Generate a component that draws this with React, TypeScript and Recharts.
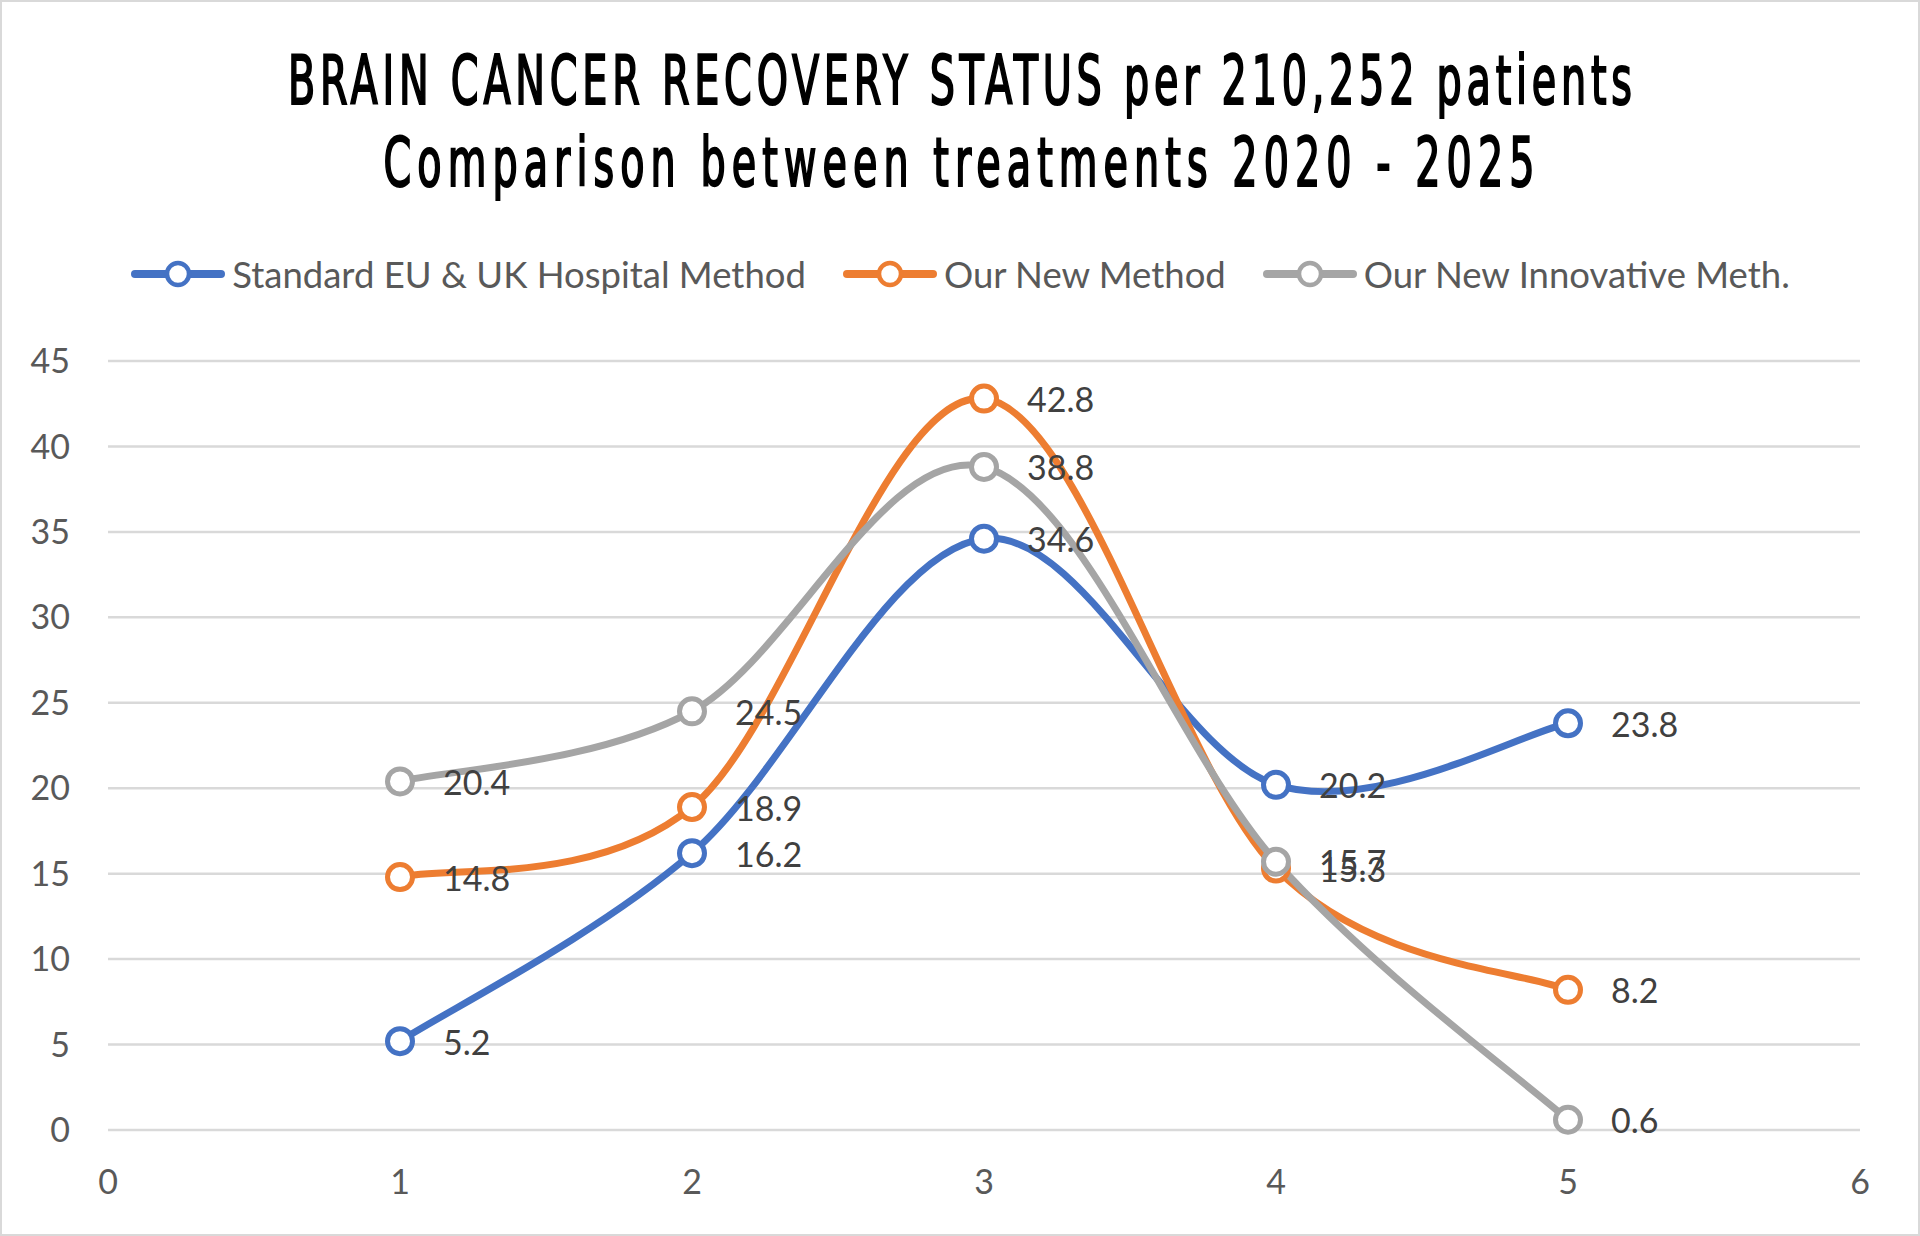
import { LineChart, Line, XAxis, YAxis, CartesianGrid, Legend, LabelList } from "recharts";

const xValues = [1, 2, 3, 4, 5];
const standardMethod = [5.2, 16.2, 34.6, 20.2, 23.8];
const newMethod = [14.8, 18.9, 42.8, 15.3, 8.2];
const innovativeMethod = [20.4, 24.5, 38.8, 15.7, 0.6];

const seriesNames = ["Standard EU & UK Hospital Method", "Our New Method", "Our New Innovative Meth."];
const seriesKeys = ["standard", "newer", "innovative"];
const seriesColors = ["#4472C4", "#ED7D31", "#A5A5A5"];

const xTicks = [0, 1, 2, 3, 4, 5, 6];
const yTicks = [0, 5, 10, 15, 20, 25, 30, 35, 40, 45];

const titleLines = [
  "BRAIN CANCER RECOVERY STATUS per 210,252 patients",
  "Comparison between treatments 2020 - 2025",
];

const data = xValues.map((x, i) => ({
  x,
  standard: standardMethod[i],
  newer: newMethod[i],
  innovative: innovativeMethod[i],
}));

const LABEL_FONT = "Lato, 'Open Sans', sans-serif";
const TITLE_FONT = "'DejaVu Sans Condensed', 'Liberation Sans Narrow', sans-serif";
const TITLE_SX = 0.92;

// Excel-style smoothing: uniform Catmull-Rom turned into cubic beziers
function excelSmooth(context: any) {
  let pts: [number, number][] = [];
  return {
    areaStart() {},
    areaEnd() {},
    lineStart() {
      pts = [];
    },
    point(x: number, y: number) {
      pts.push([+x, +y]);
    },
    lineEnd() {
      if (!pts.length) return;
      context.moveTo(pts[0][0], pts[0][1]);
      for (let i = 0; i < pts.length - 1; i++) {
        const p0 = pts[Math.max(i - 1, 0)];
        const p1 = pts[i];
        const p2 = pts[i + 1];
        const p3 = pts[Math.min(i + 2, pts.length - 1)];
        context.bezierCurveTo(
          p1[0] + (p2[0] - p0[0]) / 6,
          p1[1] + (p2[1] - p0[1]) / 6,
          p2[0] - (p3[0] - p1[0]) / 6,
          p2[1] - (p3[1] - p1[1]) / 6,
          p2[0],
          p2[1]
        );
      }
    },
  };
}

const renderLabel = (props: any) => {
  const { x, y, value } = props;
  return (
    <text
      x={x + 43}
      y={y}
      dominantBaseline="central"
      fill="#404040"
      fontSize={34}
      fontFamily={LABEL_FONT}
    >
      {value}
    </text>
  );
};

const renderLegend = () => (
  <div
    style={{
      display: "flex",
      justifyContent: "center",
      alignItems: "center",
      gap: 36,
      fontFamily: LABEL_FONT,
      fontSize: 36.5,
      color: "#595959",
      lineHeight: "40px",
    }}
  >
    {seriesNames.map((name, i) => (
      <div key={name} style={{ display: "flex", alignItems: "center", gap: 6 }}>
        <svg width={96} height={34}>
          <line x1={5} y1={17} x2={91} y2={17} stroke={seriesColors[i]} strokeWidth={8} strokeLinecap="round" />
          <circle cx={48} cy={17} r={11} fill="#fff" stroke={seriesColors[i]} strokeWidth={4.5} />
        </svg>
        <span>{name}</span>
      </div>
    ))}
  </div>
);

function TitleLine({ text, cx, baseline, width }: { text: string; cx: number; baseline: number; width: number }) {
  return (
    <text
      transform={`translate(${cx} ${baseline}) scale(${TITLE_SX} 1.4)`}
      x={0}
      y={0}
      textAnchor="middle"
      fontSize={48}
      fontFamily={TITLE_FONT}
      fill="#000"
      stroke="#000"
      strokeWidth={1.5}
      textLength={width / TITLE_SX}
      lengthAdjust="spacing"
    >
      {text}
    </text>
  );
}

export default function App() {
  return (
    <div
      style={{
        position: "absolute",
        left: 0,
        top: 0,
        width: 1920,
        height: 1236,
        background: "#fff",
        border: "2px solid #d9d9d9",
        boxSizing: "border-box",
      }}
    >
      <svg
        width={1920}
        height={230}
        style={{ position: "absolute", left: -2, top: -2, pointerEvents: "none" }}
      >
        <TitleLine text={titleLines[0]} cx={960} baseline={104} width={1344} />
        <TitleLine text={titleLines[1]} cx={959} baseline={186} width={1151} />
      </svg>
      <div style={{ position: "absolute", left: -2, top: -2 }}>
        <LineChart
          width={1920}
          height={1236}
          data={data}
          margin={{ top: 361, right: 60, bottom: 46, left: 28 }}
        >
          <CartesianGrid vertical={false} stroke="#d9d9d9" strokeWidth={2.5} />
          <XAxis
            dataKey="x"
            type="number"
            domain={[0, 6]}
            ticks={xTicks}
            axisLine={false}
            tickLine={false}
            tickSize={0}
            tickMargin={40}
            height={60}
            tick={{ fill: "#595959", fontSize: 34, fontFamily: LABEL_FONT }}
          />
          <YAxis
            type="number"
            domain={[0, 45]}
            ticks={yTicks}
            axisLine={false}
            tickLine={false}
            tickSize={0}
            tickMargin={38}
            width={80}
            tick={{ fill: "#595959", fontSize: 34, fontFamily: LABEL_FONT }}
          />
          <Legend
            verticalAlign="middle"
            align="center"
            layout="horizontal"
            content={renderLegend}
            wrapperStyle={{ top: 254, left: 0, width: 1920 }}
          />
          {seriesKeys.map((key, i) => (
            <Line
              key={key}
              dataKey={key}
              name={seriesNames[i]}
              type={excelSmooth as any}
              stroke={seriesColors[i]}
              strokeWidth={7}
              dot={{ r: 12.5, strokeWidth: 5, fill: "#fff", stroke: seriesColors[i] }}
              activeDot={false}
              isAnimationActive={false}
            >
              <LabelList dataKey={key} content={renderLabel} />
            </Line>
          ))}
        </LineChart>
      </div>
    </div>
  );
}
